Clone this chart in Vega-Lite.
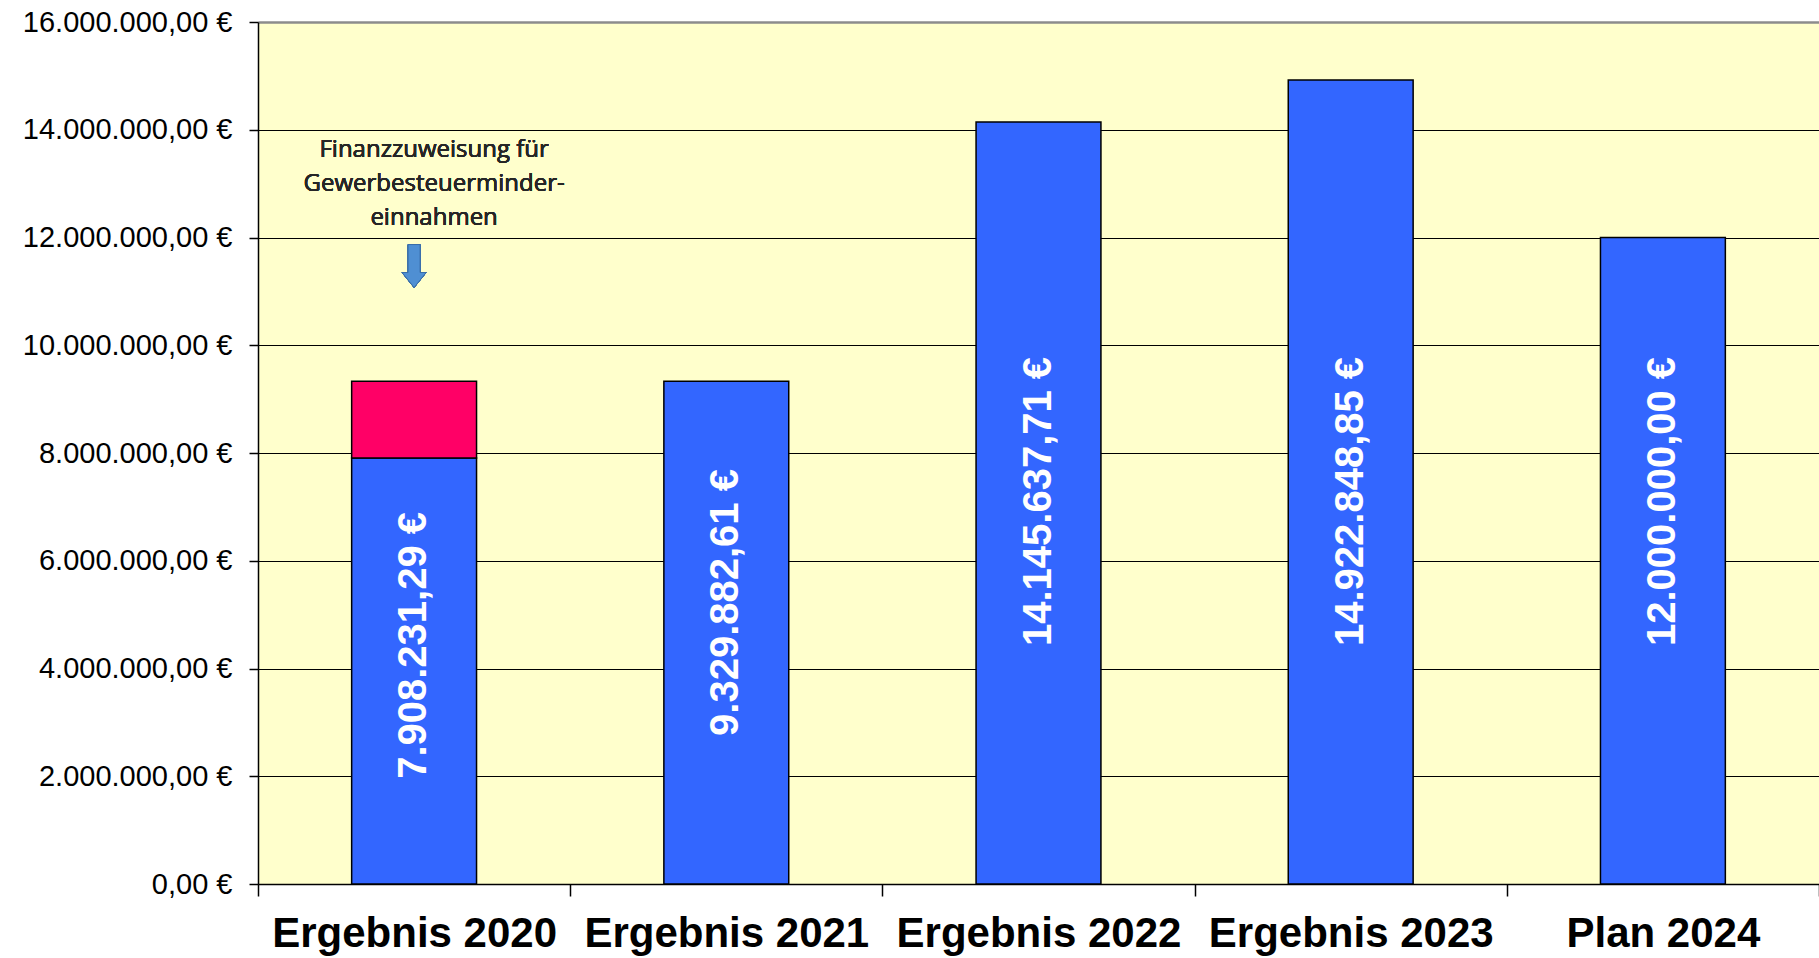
{
  "$schema": "https://vega.github.io/schema/vega-lite/v6.json",
  "autosize": {"type": "none"},
  "padding": {"left": 258, "top": 22, "right": 0, "bottom": 74},
  "width": 1561,
  "height": 862,
  "background": "#ffffff",
  "config": {
    "view": {"fill": "#FFFFCC", "stroke": null},
    "locale": {"number": {"decimal": ",", "thousands": ".", "grouping": [3], "currency": ["", " €"]}},
    "font": "Liberation Sans"
  },
  "data": {
    "values": [
      {"cat": "Ergebnis 2020", "part": "base", "value": 7908231.29},
      {"cat": "Ergebnis 2020", "part": "extra", "value": 1421651.32},
      {"cat": "Ergebnis 2021", "part": "base", "value": 9329882.61},
      {"cat": "Ergebnis 2022", "part": "base", "value": 14145637.71},
      {"cat": "Ergebnis 2023", "part": "base", "value": 14922848.85},
      {"cat": "Plan 2024", "part": "base", "value": 12000000}
    ]
  },
  "encoding": {
    "x": {
      "field": "cat", "type": "nominal", "sort": null,
      "scale": {"paddingInner": 0, "paddingOuter": 0},
      "axis": {
        "title": null, "labelAngle": 0, "tickBand": "extent",
        "labelFont": "Liberation Sans", "labelFontSize": 42, "labelFontWeight": "bold", "labelColor": "#000000",
        "labelPadding": 17, "tickSize": 12, "tickColor": "#000000", "tickWidth": 1.5,
        "domainColor": "#000000", "domainWidth": 1.5, "labelOverlap": false, "labelLimit": 0
      }
    }
  },
  "layer": [
    {
      "mark": {"type": "bar", "stroke": "#000000", "strokeWidth": 1.5, "width": {"band": 0.4}},
      "encoding": {
        "y": {
          "field": "value", "type": "quantitative", "stack": "zero",
          "scale": {"domain": [0, 16000000], "nice": false},
          "axis": {
            "title": null, "values": [0, 2000000, 4000000, 6000000, 8000000, 10000000, 12000000, 14000000, 16000000],
            "format": "$,.2f", "labelFont": "Liberation Sans", "labelFontSize": 29, "labelColor": "#000000", "labelLimit": 0,
            "labelPadding": 17, "tickSize": 9, "tickColor": "#000000", "tickWidth": 1.5,
            "domainColor": "#000000", "domainWidth": 1.5,
            "grid": true,
            "gridColor": {"condition": {"test": "datum.value === 16000000", "value": "#8c8c8c"}, "value": "#000000"},
            "gridWidth": {"condition": {"test": "datum.value === 16000000", "value": 2.5}, "value": 1}
          }
        },
        "color": {
          "field": "part", "type": "nominal", "legend": null,
          "scale": {"domain": ["base", "extra"], "range": ["#3366FF", "#FF0066"]}
        },
        "order": {"field": "part", "sort": "ascending"}
      }
    },
    {
      "transform": [
        {"filter": "datum.part === 'base'"},
        {"calculate": "datum.value < 10000000 ? datum.value * 0.56 : 7100000", "as": "labelY"}
      ],
      "mark": {"type": "text", "angle": 270, "align": "center", "baseline": "middle", "font": "Liberation Sans", "fontSize": 40, "fontWeight": "bold", "color": "#ffffff"},
      "encoding": {
        "y": {"field": "labelY", "type": "quantitative"},
        "text": {"field": "value", "type": "quantitative", "format": "$,.2f"}
      }
    },
    {
      "mark": {"type": "text", "align": "center", "baseline": "middle", "font": "Open Sans", "fontSize": 24, "color": "#262626", "lineHeight": 34, "dx": 20},
      "encoding": {
        "x": {"datum": "Ergebnis 2020"},
        "y": {"datum": 13620000},
        "text": {"value": ["Finanzzuweisung für", "Gewerbesteuerminder-", "einnahmen"]}
      }
    },
    {
      "mark": {"type": "point", "filled": true, "shape": "M-0.28,-1 L0.28,-1 L0.28,0.3 L0.56,0.3 L0,1 L-0.56,0.3 L-0.28,0.3 Z", "size": 1849, "fill": "#4F8FD3", "stroke": "#3A6EA8", "strokeWidth": 1, "opacity": 1},
      "encoding": {
        "x": {"datum": "Ergebnis 2020"},
        "y": {"datum": 11470000}
      }
    }
  ]
}
